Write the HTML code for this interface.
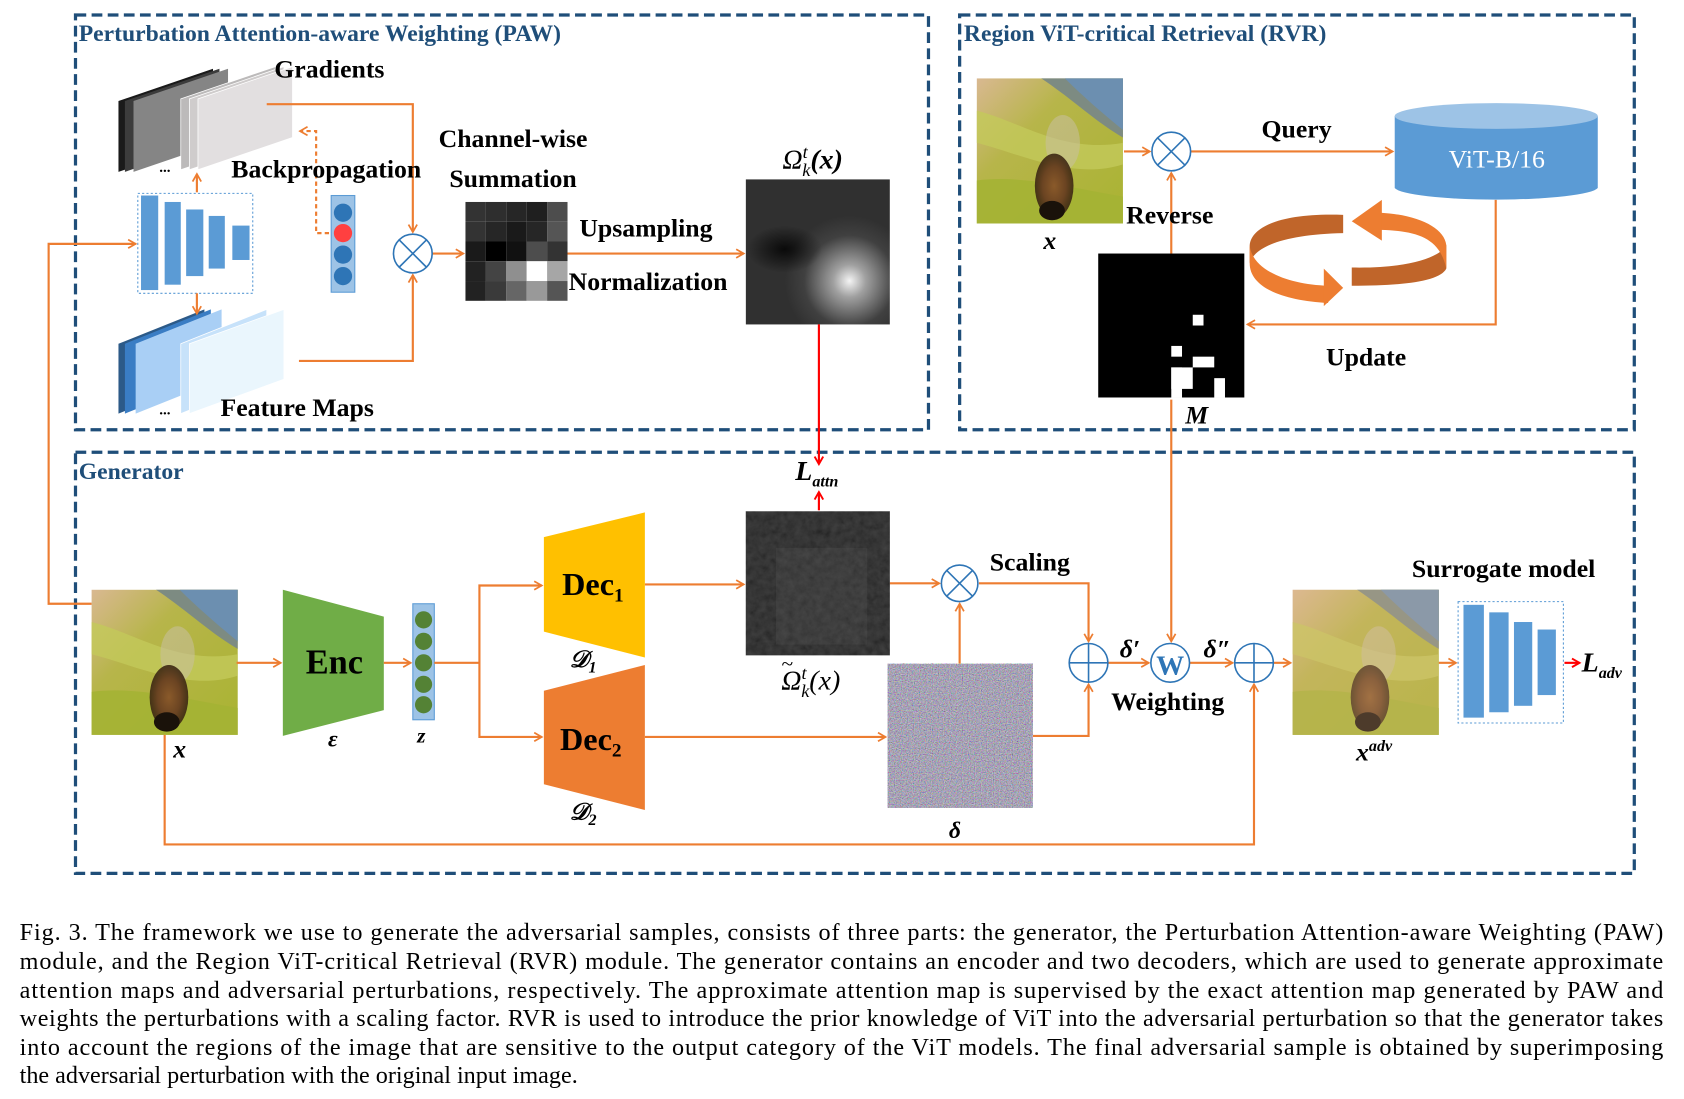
<!DOCTYPE html>
<html><head><meta charset="utf-8"><style>
html,body{margin:0;padding:0;background:#fff;}
svg{display:block;font-family:"Liberation Serif","Times New Roman",serif;}
svg text{font-family:"Liberation Serif","Times New Roman",serif;}
.b{font-weight:bold;font-size:24px;fill:#000;}
.t{font-weight:bold;font-size:22px;fill:#1f4e79;}
.i{font-style:italic;font-weight:bold;fill:#000;}
.cap{font-size:22.5px;fill:#000;}
</style></head><body>
<svg width="1684" height="1099" viewBox="0 0 1567 1023" font-family="Liberation Serif, Times New Roman, serif" xmlns="http://www.w3.org/2000/svg">
<defs>
<marker id="ao" markerWidth="10" markerHeight="10" refX="8" refY="5" orient="auto" markerUnits="userSpaceOnUse"><path d="M1,1 L8,5 L1,9" fill="none" stroke="#ed7d31" stroke-width="1.6"/></marker>
<marker id="ar" markerWidth="10" markerHeight="10" refX="8" refY="5" orient="auto" markerUnits="userSpaceOnUse"><path d="M1,1 L8,5 L1,9" fill="none" stroke="#ff0000" stroke-width="1.8"/></marker>
<linearGradient id="bg1" x1="0" y1="0" x2="1" y2="1"><stop offset="0" stop-color="#d9b891"/><stop offset="0.35" stop-color="#b7b54a"/><stop offset="1" stop-color="#a9b332"/></linearGradient>
<radialGradient id="bee" cx="0.5" cy="0.5" r="0.5"><stop offset="0" stop-color="#8a5a2a"/><stop offset="0.6" stop-color="#6b4422"/><stop offset="1" stop-color="#3a2612" stop-opacity="0.9"/></radialGradient>
<radialGradient id="ups" cx="0.72" cy="0.7" r="0.45"><stop offset="0" stop-color="#f4f4f4"/><stop offset="0.25" stop-color="#a0a0a0"/><stop offset="0.7" stop-color="#404040"/><stop offset="1" stop-color="#303030"/></radialGradient>
<radialGradient id="dk" cx="0.5" cy="0.5" r="0.5"><stop offset="0" stop-color="#000" stop-opacity="0.8"/><stop offset="1" stop-color="#000" stop-opacity="0"/></radialGradient>
<filter id="noise" x="0" y="0" width="100%" height="100%"><feTurbulence type="fractalNoise" baseFrequency="0.9" numOctaves="2" seed="3"/><feColorMatrix type="matrix" values="1.4 0 0 0 -0.2  0 1.4 0 0 -0.2  0 0 1.5 0 -0.15  0 0 0 0 1"/></filter>
<filter id="nz2" x="0" y="0" width="100%" height="100%"><feTurbulence type="fractalNoise" baseFrequency="0.15" numOctaves="3" seed="7"/><feColorMatrix type="matrix" values="0.25 0.1 0 0 0  0.25 0.1 0 0 0  0.25 0.1 0 0 0  0 0 0 0 1"/></filter>
<g id="beeimg">
<rect width="136" height="135" fill="url(#bg1)"/>
<path d="M60,0 H136 V55 C110,40 90,20 60,0Z" fill="#7d8b82"/>
<path d="M82,0 H136 V48 C120,35 100,18 82,0Z" fill="#6c8fb0"/>
<path d="M0,30 C40,40 80,70 136,60 V80 C90,95 40,70 0,60Z" fill="#c3c95a" opacity="0.8"/>
<path d="M0,95 C40,90 80,100 136,110 V135 H0Z" fill="#a4b334" opacity="0.9"/>
<ellipse cx="80" cy="60" rx="16" ry="26" fill="#c8c0a0" opacity="0.55"/>
<ellipse cx="72" cy="100" rx="18" ry="30" fill="url(#bee)"/>
<ellipse cx="70" cy="123" rx="12" ry="9" fill="#1a120a"/>
</g>
</defs>

<g fill="none" stroke="#1f4e79" stroke-width="3" stroke-dasharray="10,5">
<rect x="70" y="14" width="794" height="386"/>
<rect x="893" y="14" width="628" height="386"/>
<rect x="70" y="421" width="1451" height="392"/>
</g>
<text class="t" x="73" y="38">Perturbation Attention-aware Weighting (PAW)</text>
<text class="t" x="897" y="38">Region ViT-critical Retrieval (RVR)</text>
<text class="t" x="73" y="446">Generator</text>

<g>
<polygon points="110,94 198,64 198,130 110,160" fill="#1a1a1a"/>
<polygon points="116,94 204,64 204,130 116,160" fill="#3c3c3c"/>
<polygon points="124,94 212,64 212,130 124,160" fill="#858585"/>
<polygon points="168,92 256,62 256,128 168,158" fill="#bcbaba" stroke="#fff" stroke-width="0.7"/>
<polygon points="176,92 264,62 264,128 176,158" fill="#cfcccc" stroke="#fff" stroke-width="0.7"/>
<polygon points="184,92 272,62 272,128 184,158" fill="#e2dfe0" stroke="#fff" stroke-width="0.7"/>
<text x="148" y="160" font-size="14" font-weight="bold">...</text>
</g>
<g>
<polygon points="110,320 190,288 190,353 110,385" fill="#2c5a88"/>
<polygon points="116,320 196,288 196,353 116,385" fill="#3a7dc4"/>
<polygon points="126,320 206,288 206,353 126,385" fill="#a9cff5"/>
<polygon points="168,320 248,288 248,353 168,385" fill="#c7e2fa" stroke="#fff" stroke-width="0.7"/>
<polygon points="176,320 264,288 264,353 176,385" fill="#eaf6fd" stroke="#fff" stroke-width="0.7"/>
<text x="148" y="386" font-size="14" font-weight="bold">...</text>
</g>
<rect x="128" y="180" width="107" height="93" fill="none" stroke="#5b9bd5" stroke-width="1" stroke-dasharray="2,2"/>
<g fill="#5b9bd5">
<rect x="131" y="182" width="16" height="88"/><rect x="153" y="188" width="15" height="77"/><rect x="173" y="195" width="16" height="62"/><rect x="194" y="201" width="15" height="49"/><rect x="216" y="210" width="16" height="32"/>
</g>
<g stroke="#ed7d31" stroke-width="2" fill="none">
<line x1="183" y1="179" x2="183" y2="162" marker-end="url(#ao)"/>
<line x1="183" y1="273" x2="183" y2="292" marker-end="url(#ao)"/>
<polyline points="85,562 45,562 45,227 126,227" marker-end="url(#ao)"/>
<polyline points="248,97 384,97 384,216" marker-end="url(#ao)"/>
<polyline points="278,336 384,336 384,256" marker-end="url(#ao)"/>
<polyline points="306,217 294,217 294,122 279,122" stroke-dasharray="4,3" marker-end="url(#ao)"/>
<line x1="402" y1="236" x2="431" y2="236" marker-end="url(#ao)"/>
<line x1="527" y1="236" x2="692" y2="236" marker-end="url(#ao)"/>
</g>
<rect x="308" y="182" width="22" height="90" fill="#9dc3e6" stroke="#5b9bd5"/>
<circle cx="319" cy="198" r="8.5" fill="#2e75b6"/><circle cx="319" cy="217" r="8.5" fill="#ff4040"/><circle cx="319" cy="237" r="8.5" fill="#2e75b6"/><circle cx="319" cy="257" r="8.5" fill="#2e75b6"/>
<g stroke="#2e75b6" stroke-width="1.5" fill="#fff">
<circle cx="384" cy="236" r="18"/><line x1="371" y1="223" x2="397" y2="249"/><line x1="397" y1="223" x2="371" y2="249"/>
</g>
<g>
<rect x="433" y="188" width="19" height="18.4" fill="#333"/><rect x="452" y="188" width="19" height="18.4" fill="#2e2e2e"/><rect x="471" y="188" width="19" height="18.4" fill="#262626"/><rect x="490" y="188" width="19" height="18.4" fill="#1f1f1f"/><rect x="509" y="188" width="19" height="18.4" fill="#4d4d4d"/>
<rect x="433" y="206.4" width="19" height="18.4" fill="#333"/><rect x="452" y="206.4" width="19" height="18.4" fill="#262626"/><rect x="471" y="206.4" width="19" height="18.4" fill="#1a1a1a"/><rect x="490" y="206.4" width="19" height="18.4" fill="#262626"/><rect x="509" y="206.4" width="19" height="18.4" fill="#555"/>
<rect x="433" y="224.8" width="19" height="18.4" fill="#1a1a1a"/><rect x="452" y="224.8" width="19" height="18.4" fill="#000"/><rect x="471" y="224.8" width="19" height="18.4" fill="#111"/><rect x="490" y="224.8" width="19" height="18.4" fill="#4d4d4d"/><rect x="509" y="224.8" width="19" height="18.4" fill="#333"/>
<rect x="433" y="243.2" width="19" height="18.4" fill="#222"/><rect x="452" y="243.2" width="19" height="18.4" fill="#444"/><rect x="471" y="243.2" width="19" height="18.4" fill="#8f8f8f"/><rect x="490" y="243.2" width="19" height="18.4" fill="#fff"/><rect x="509" y="243.2" width="19" height="18.4" fill="#a6a6a6"/>
<rect x="433" y="261.6" width="19" height="18.4" fill="#222"/><rect x="452" y="261.6" width="19" height="18.4" fill="#3a3a3a"/><rect x="471" y="261.6" width="19" height="18.4" fill="#666"/><rect x="490" y="261.6" width="19" height="18.4" fill="#999"/><rect x="509" y="261.6" width="19" height="18.4" fill="#555"/>
</g>
<rect x="694" y="167" width="134" height="135" fill="url(#ups)"/>
<ellipse cx="730" cy="232" rx="35" ry="22" fill="url(#dk)"/>
<text x="728" y="157" font-size="26" font-style="italic">Ω<tspan font-size="17" dy="-10">t</tspan><tspan font-size="17" dx="-5" dy="17">k</tspan><tspan dy="-7" font-weight="bold">(x)</tspan></text>
<line x1="762" y1="302" x2="762" y2="432" stroke="#ff0000" stroke-width="2" marker-end="url(#ar)"/>
<text class="b" x="255" y="72">Gradients</text>
<text class="b" x="215" y="165">Backpropagation</text>
<text class="b" x="408" y="137">Channel-wise</text>
<text class="b" x="418" y="174">Summation</text>
<text class="b" x="539" y="220">Upsampling</text>
<text class="b" x="529" y="270">Normalization</text>
<text class="b" x="205" y="387">Feature Maps</text>

<use href="#beeimg" x="909" y="73"/>
<text class="i" x="971" y="232" font-size="24">x</text>
<g stroke="#ed7d31" stroke-width="2" fill="none">
<line x1="1046" y1="141" x2="1070" y2="141" marker-end="url(#ao)"/>
<line x1="1108" y1="141" x2="1296" y2="141" marker-end="url(#ao)"/>
<line x1="1090" y1="236" x2="1090" y2="161" marker-end="url(#ao)"/>
<polyline points="1392,186 1392,302 1161,302" marker-end="url(#ao)"/>
<line x1="1090" y1="372" x2="1090" y2="597" marker-end="url(#ao)"/>
</g>
<g stroke="#2e75b6" stroke-width="1.5" fill="#fff">
<circle cx="1090" cy="141" r="18"/><line x1="1077" y1="128" x2="1103" y2="154"/><line x1="1103" y1="128" x2="1077" y2="154"/>
</g>
<text class="b" x="1174" y="128">Query</text>
<path d="M1298,108 V175 A95,12 0 0 0 1487,175 V108Z" fill="#5b9bd5"/>
<ellipse cx="1392.5" cy="108" rx="94.5" ry="12" fill="#9dc3e6"/>
<text x="1393" y="156" font-size="24" fill="#fff" text-anchor="middle">ViT-B/16</text>
<text class="b" x="1048" y="208">Reverse</text>
<rect x="1022" y="236" width="136" height="134" fill="#000"/>
<g fill="#fff">
<rect x="1110" y="293" width="10" height="10"/><rect x="1090" y="322" width="10" height="10"/><rect x="1110" y="332" width="20" height="10"/><rect x="1090" y="342" width="20" height="20"/><rect x="1090" y="342" width="10" height="28"/><rect x="1130" y="352" width="10" height="18"/>
</g>
<text class="i" x="1103" y="394" font-size="24">M</text>
<text class="b" x="1234" y="340">Update</text>
<g>
<path d="M1250,200 C1195,198 1165,210 1163,228 L1163,245 C1168,228 1200,218 1250,217Z" fill="#c0652a"/>
<path d="M1163,228 C1165,252 1200,265 1236,266 L1236,282 C1195,280 1163,268 1163,245Z" fill="#ed7d31"/>
<polygon points="1232,250 1250,268 1232,285" fill="#ed7d31"/>
<path d="M1258,249 C1310,250 1340,240 1346,228 L1346,250 C1340,262 1305,266 1258,266Z" fill="#c0652a"/>
<path d="M1346,228 C1344,212 1320,200 1285,198 L1285,214 C1320,215 1340,222 1346,250Z" fill="#ed7d31"/>
<polygon points="1286,186 1258,206 1286,224" fill="#ed7d31"/>
</g>

<use href="#beeimg" x="85" y="549"/>
<text class="i" x="161" y="705" font-size="24">x</text>
<polygon points="263,549 357,574 357,661 263,685" fill="#70ad47"/>
<text x="311" y="627" font-size="32" font-weight="bold" text-anchor="middle">Enc</text>
<text class="i" x="305" y="695" font-size="22">ε</text>
<rect x="384" y="562" width="20" height="108" fill="#9dc3e6" stroke="#5b9bd5"/>
<g fill="#548235"><circle cx="394" cy="577" r="8"/><circle cx="394" cy="597" r="8"/><circle cx="394" cy="617" r="8"/><circle cx="394" cy="637" r="8"/><circle cx="394" cy="656" r="8"/></g>
<text class="i" x="388" y="691" font-size="20">z</text>
<g stroke="#ed7d31" stroke-width="2" fill="none">
<line x1="220" y1="617" x2="261" y2="617" marker-end="url(#ao)"/>
<line x1="357" y1="617" x2="382" y2="617" marker-end="url(#ao)"/>
<polyline points="404,617 446,617 446,545 504,545" marker-end="url(#ao)"/>
<polyline points="446,617 446,686 504,686" marker-end="url(#ao)"/>
<line x1="600" y1="544" x2="692" y2="544" marker-end="url(#ao)"/>
<line x1="600" y1="686" x2="824" y2="686" marker-end="url(#ao)"/>
<line x1="828" y1="543" x2="874" y2="543" marker-end="url(#ao)"/>
<line x1="893" y1="618" x2="893" y2="562" marker-end="url(#ao)"/>
<polyline points="911,543 1013,543 1013,597" marker-end="url(#ao)"/>
<polyline points="961,685 1013,685 1013,637" marker-end="url(#ao)"/>
<line x1="1031" y1="617" x2="1069" y2="617" marker-end="url(#ao)"/>
<line x1="1107" y1="617" x2="1147" y2="617" marker-end="url(#ao)"/>
<polyline points="153,684 153,786 1167,786 1167,637" marker-end="url(#ao)"/>
<line x1="1185" y1="617" x2="1201" y2="617" marker-end="url(#ao)"/>
<line x1="1338" y1="617" x2="1355" y2="617" marker-end="url(#ao)"/>
</g>
<polygon points="506,500 600,477 600,612 506,588" fill="#ffc000"/>
<text x="523" y="554" font-size="30" font-weight="bold">Dec<tspan font-size="18" dy="6">1</tspan></text>
<text class="i" x="530" y="621" font-size="22">𝒟<tspan font-size="15" dy="5">1</tspan></text>
<polygon points="506,643 600,619 600,754 506,730" fill="#ed7d31"/>
<text x="521" y="698" font-size="30" font-weight="bold">Dec<tspan font-size="18" dy="6">2</tspan></text>
<text class="i" x="530" y="763" font-size="22">𝒟<tspan font-size="15" dy="5">2</tspan></text>
<rect x="694" y="476" width="134" height="134" fill="#141414"/>
<rect x="694" y="476" width="134" height="134" filter="url(#nz2)" opacity="0.35"/>
<rect x="722" y="510" width="85" height="90" fill="#666" opacity="0.2"/>
<text x="727" y="642" font-size="26" font-style="italic">Ω<tspan font-size="17" dy="-10">t</tspan><tspan font-size="17" dx="-5" dy="17">k</tspan><tspan dy="-7">(x)</tspan></text>
<text x="727" y="624" font-size="20" font-style="italic">~</text>
<line x1="762" y1="475" x2="762" y2="458" stroke="#ff0000" stroke-width="2" marker-end="url(#ar)"/>
<text class="i" x="740" y="447" font-size="26">L<tspan font-size="15" dy="6">attn</tspan></text>
<rect x="826" y="618" width="135" height="134" filter="url(#noise)"/>
<rect x="826" y="618" width="135" height="134" fill="#7a6e86" opacity="0.3"/>
<text class="i" x="883" y="780" font-size="22">δ</text>
<g stroke="#2e75b6" stroke-width="1.5" fill="#fff">
<circle cx="893" cy="543" r="17"/><line x1="881" y1="531" x2="905" y2="555"/><line x1="905" y1="531" x2="881" y2="555"/>
<circle cx="1013" cy="617" r="18"/><line x1="995" y1="617" x2="1031" y2="617"/><line x1="1013" y1="599" x2="1013" y2="635"/>
<circle cx="1167" cy="617" r="18"/><line x1="1149" y1="617" x2="1185" y2="617"/><line x1="1167" y1="599" x2="1167" y2="635"/>
<circle cx="1089" cy="617" r="18"/>
</g>
<text x="1089" y="628" font-size="26" font-weight="bold" fill="#2e75b6" text-anchor="middle">W</text>
<text class="b" x="921" y="531">Scaling</text>
<text class="i" x="1042" y="612" font-size="24">δ′</text>
<text class="i" x="1120" y="612" font-size="24">δ″</text>
<text class="b" x="1034" y="661">Weighting</text>
<use href="#beeimg" x="1203" y="549"/>
<rect x="1203" y="549" width="136" height="135" fill="#e6b890" opacity="0.25"/>
<text class="i" x="1262" y="708" font-size="24">x<tspan font-size="15" dy="-9">adv</tspan></text>
<rect x="1357" y="560" width="98" height="113" fill="none" stroke="#5b9bd5" stroke-dasharray="2,2"/>
<g fill="#5b9bd5"><rect x="1362" y="563" width="19" height="105"/><rect x="1386" y="570" width="18" height="93"/><rect x="1409" y="579" width="17" height="78"/><rect x="1431" y="586" width="17" height="61"/></g>
<text class="b" x="1314" y="537">Surrogate model</text>
<line x1="1456" y1="617" x2="1470" y2="617" stroke="#ff0000" stroke-width="2" marker-end="url(#ar)"/>
<text class="i" x="1472" y="625" font-size="26">L<tspan font-size="15" dy="6">adv</tspan></text>

<text class="cap" x="18" y="875" textLength="1530" lengthAdjust="spacing">Fig. 3.   The framework we use to generate the adversarial samples, consists of three parts: the generator, the Perturbation Attention-aware Weighting (PAW)</text>
<text class="cap" x="18" y="902" textLength="1530" lengthAdjust="spacing">module, and the Region ViT-critical Retrieval (RVR) module. The generator contains an encoder and two decoders, which are used to generate approximate</text>
<text class="cap" x="18" y="929" textLength="1530" lengthAdjust="spacing">attention maps and adversarial perturbations, respectively. The approximate attention map is supervised by the exact attention map generated by PAW and</text>
<text class="cap" x="18" y="955" textLength="1530" lengthAdjust="spacing">weights the perturbations with a scaling factor. RVR is used to introduce the prior knowledge of ViT into the adversarial perturbation so that the generator takes</text>
<text class="cap" x="18" y="982" textLength="1530" lengthAdjust="spacing">into account the regions of the image that are sensitive to the output category of the ViT models. The final adversarial sample is obtained by superimposing</text>
<text class="cap" x="18" y="1008">the adversarial perturbation with the original input image.</text>
</svg>
</body></html>
